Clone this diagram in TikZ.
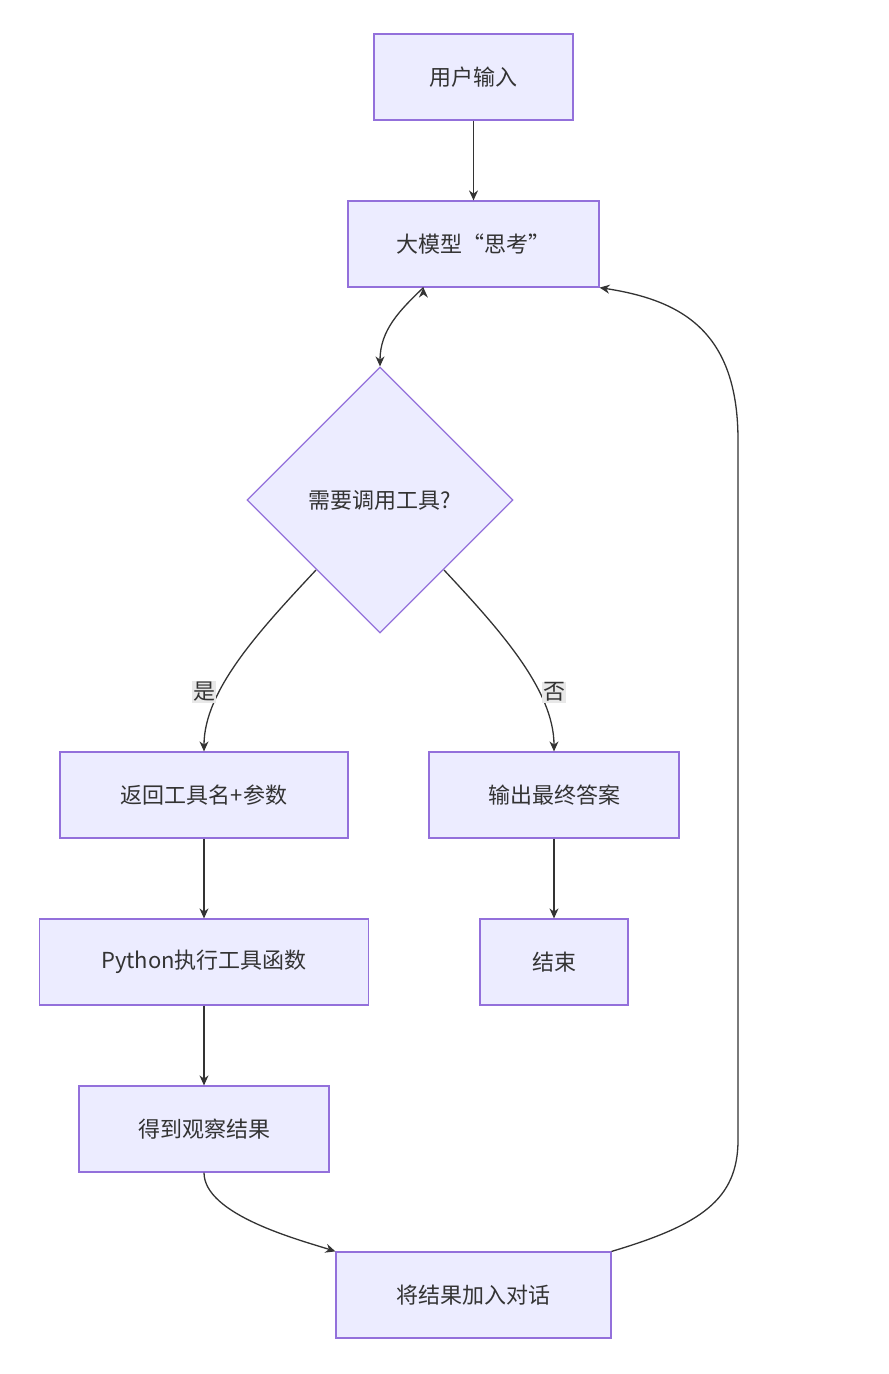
\documentclass[tikz,border=0pt]{standalone}
\usepackage{fontspec}
\setmainfont{Noto Sans CJK SC}
\usetikzlibrary{shapes.geometric,arrows.meta}
\definecolor{nfill}{HTML}{ECECFF}
\definecolor{nstroke}{HTML}{9370DB}
\definecolor{ink}{HTML}{333333}
\definecolor{lbl}{HTML}{E8E8E8}
\begin{document}
\begin{tikzpicture}[x=1pt,y=-1pt,
  box/.style={draw=nstroke,fill=nfill,line width=1.2pt,text=ink,font=\fontsize{22}{26}\selectfont,inner sep=0pt},
  dia/.style={diamond,draw=nstroke,fill=nfill,line width=1.2pt,text=ink,font=\fontsize{22}{26}\selectfont,minimum width=266pt,minimum height=266pt,inner sep=0pt,aspect=1},
  conn/.style={draw=ink,line width=1.3pt,-{Stealth[length=10pt,width=9pt]}},
  lab/.style={fill=lbl,text=ink,font=\fontsize{22}{26}\selectfont,inner sep=1pt}]
\useasboundingbox (0,0) rectangle (889,1374);
\node[box,minimum width=199pt,minimum height=86pt] (a) at (473.5,77) {用户输入};
\node[box,minimum width=251pt,minimum height=86pt] (b) at (473.5,244) {大模型“思考”};
\node[dia] (c) at (380,500) {需要调用工具?};
\node[box,minimum width=288pt,minimum height=86pt] (d) at (204,795) {返回工具名+参数};
\node[box,minimum width=250pt,minimum height=86pt] (e) at (554,795) {输出最终答案};
\node[box,minimum width=329pt,minimum height=86pt] (f) at (204,962) {Python执行工具函数};
\node[box,minimum width=148pt,minimum height=86pt] (g) at (554,962) {结束};
\node[box,minimum width=250pt,minimum height=86pt] (h) at (204,1129) {得到观察结果};
\node[box,minimum width=275pt,minimum height=86pt] (i) at (473.5,1295) {将结果加入对话};
\draw[conn] (a) -- (b);
\draw[conn] (b.south west) ++(76,0) coordinate (b1);
\draw[conn] (b1) .. controls (400,310) and (380,330) .. (c.north);
\coordinate (cl) at (316,570);
\coordinate (cr) at (444,570);
\draw[conn] (cl) .. controls (260,630) and (204,690) .. (d.north);
\draw[conn] (cr) .. controls (500,630) and (554,690) .. (e.north);
\node[lab] at (204,692) {是};
\node[lab] at (554,692) {否};
\draw[conn] (d) -- (f);
\draw[conn] (e) -- (g);
\draw[conn] (f) -- (h);
\draw[conn] (h.south) .. controls (204,1215) and (300,1240) .. (i.north west);
\draw[conn] (i.north east) .. controls (700,1225) and (738,1200) .. (738,1140) -- (738,440) .. controls (738,330) and (680,300) .. (b.south east);
\end{tikzpicture}
\end{document}
